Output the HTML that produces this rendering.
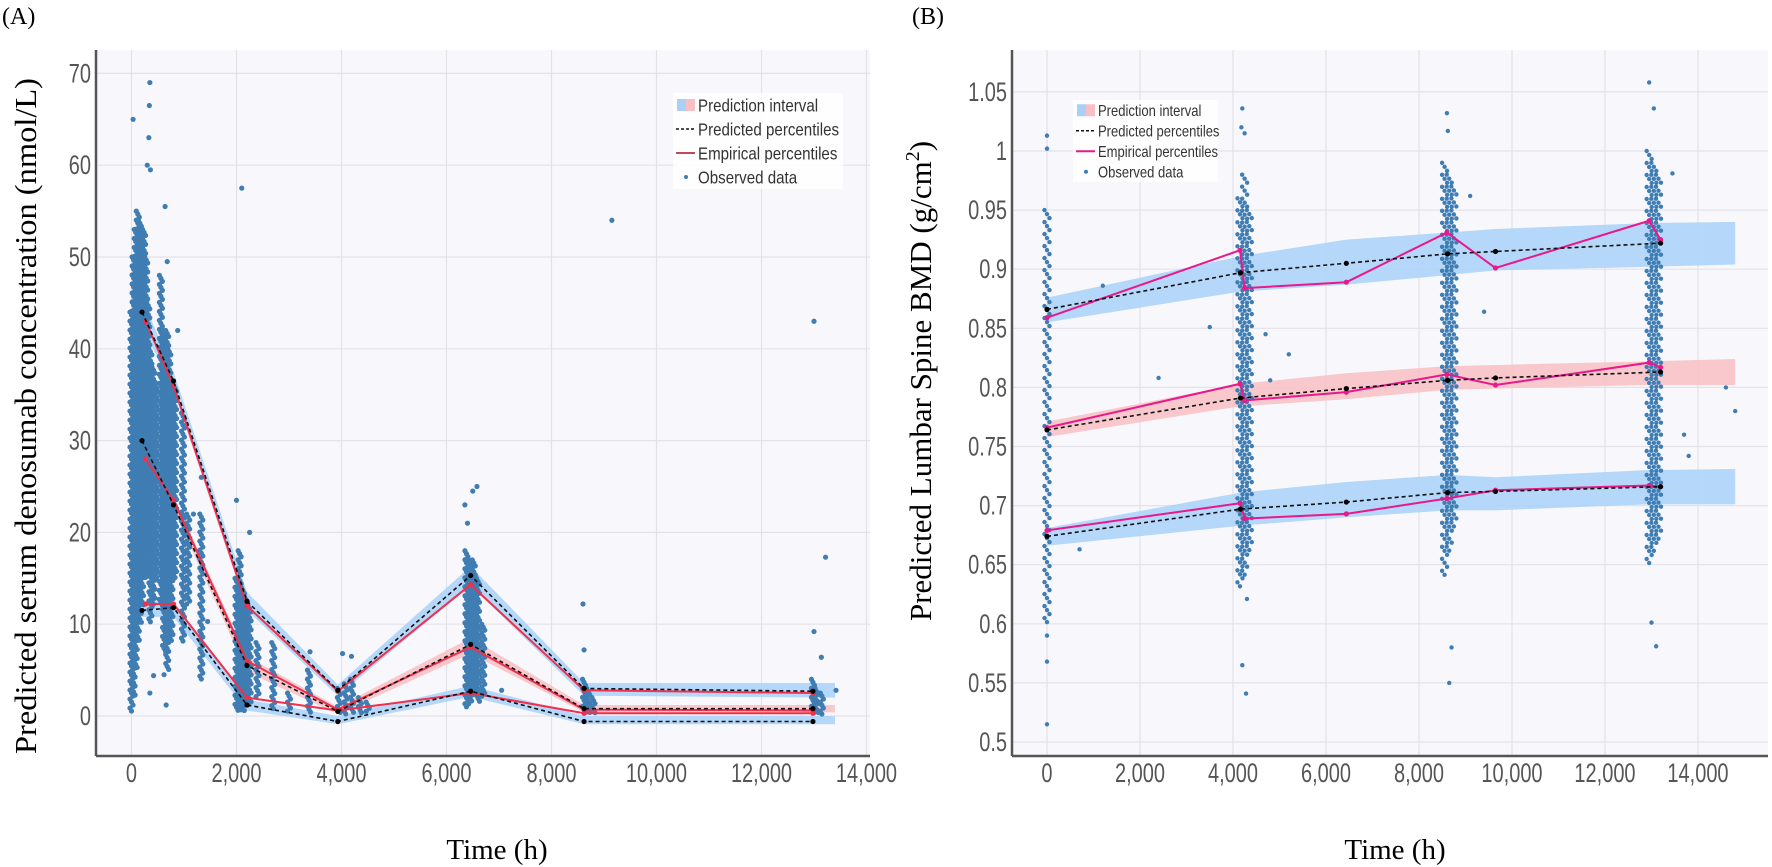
<!DOCTYPE html>
<html><head><meta charset="utf-8"><style>
html,body{margin:0;padding:0;background:#fff}
svg{display:block}
text{font-family:"Liberation Sans",sans-serif}
.serif{font-family:"Liberation Serif",serif}
</style></head><body>
<svg id="fig" width="1772" height="867" viewBox="0 0 1772 867" xmlns="http://www.w3.org/2000/svg">
<text x="2" y="24" class="serif" font-size="24" fill="#000">(A)</text>
<text x="912" y="24" class="serif" font-size="24" fill="#000">(B)</text>
<g id="pa"></g>
<g id="pb"></g>
</svg>
<script>
// ===== Panel A data =====
const aXTicks=[0,2000,4000,6000,8000,10000,12000,14000];
const aYTicks=[0,10,20,30,40,50,60,70];
const aPredX=[200,800,2200,3930,6460,8620,12980];
const aPredHi=[44,36.5,12.5,2.8,15.3,3.0,2.7];
const aPredMed=[30,23,5.5,0.5,7.8,0.8,0.8];
const aPredLo=[11.5,11.8,1.2,-0.6,2.7,-0.6,-0.6];
const aEmpX=[270,800,2200,3930,6460,8620,12980];
const aEmpHi=[43,36,12,2.7,14.3,2.8,2.5];
const aEmpMed=[28,23.5,6,0.7,7.5,0.7,0.6];
const aEmpLo=[12.2,12.2,2,0.6,2.5,0.3,0.3];
const aBandX=[0,200,800,2200,3930,6460,8620,13400];
const aBandHiLo=[42,42.5,35.5,11.5,2.2,14.2,2.2,2.0];
const aBandHiHi=[46,45.5,37.5,13.5,3.4,16.3,3.6,3.6];
const aBandMedLo=[28,28.5,22.5,4.8,0.2,6.8,0.4,0.4];
const aBandMedHi=[31,31,24,6.5,1.0,8.5,1.2,1.2];
const aBandLoLo=[10.5,10.8,10.8,0.6,-0.9,2.1,-0.9,-0.9];
const aBandLoHi=[12.5,12.5,12.5,1.8,0.0,3.3,0.0,0.0];
const aStripeX=[0,40,80,120,160,200,240,280,320,360,420,480,560,620,680,720,760,830,980,1080,1330,2000,2060,2120,2180,2250,2400,2700,3000,3380,3950,4080,4200,4350,4500,6380,6450,6520,6600,6700,8620,8700,8800,12980,13050,13150];
const aStripeLo=[0.3,2,5,8,10,12,15,18,15,10,12,15,12,7,5,10,8,15,8,12,4,0.5,0.5,0.5,1,1,2,0.5,0.5,0.3,0.2,0.2,0.3,0.3,0.3,1,1,2,1.5,2,0.2,0.2,0.2,0.2,0.2,0.2];
const aStripeHi=[44,50,53,55,54,52,53,50,45,40,38,36,48,42,42,40,36,36,33,22,22,15,18,14,13,12,8,8,2.5,5,3,3.5,4,2,1.5,18,17,17,15,10,4,3,2,4,3,2.5];
const aOutX=[30,350,340,330,360,300,2100,9150,13000,13220,13000,8600,6500,6580,6350,6400,2000,2250,640,680,880,1330,1180,4020,4190,7050,8620,13140,420,350,660,620,1000,1450,3400,13420];
const aOutY=[65,69,66.5,63,59.5,60,57.5,54,43,17.3,9.2,12.2,24.5,25,23,21,23.5,20,55.5,49.5,42,26,22,6.8,6.5,2.8,7.2,6.4,4.4,2.5,1.2,4.5,10,10.3,7,2.8];

// ===== Panel B data =====
const bXTicks=[0,2000,4000,6000,8000,10000,12000,14000];
const bYTicks=[0.5,0.55,0.6,0.65,0.7,0.75,0.8,0.85,0.9,0.95,1,1.05];
const bYTickLabels=["0.5","0.55","0.6","0.65","0.7","0.75","0.8","0.85","0.9","0.95","1","1.05"];
const bPredX=[0,4160,6437,8616,9645,13195];
const bPredHi=[0.866,0.897,0.905,0.913,0.915,0.922];
const bPredMed=[0.764,0.791,0.799,0.806,0.808,0.813];
const bPredLo=[0.674,0.697,0.703,0.711,0.712,0.716];
const bEmpX=[0,4150,4250,6437,8600,9645,12950,13195];
const bEmpHi=[0.859,0.916,0.884,0.889,0.931,0.901,0.941,0.925];
const bEmpMed=[0.766,0.803,0.789,0.796,0.811,0.802,0.821,0.817];
const bEmpLo=[0.679,0.702,0.689,0.693,0.706,0.713,0.717,0.716];
const bBandX=[0,4160,6437,8616,9645,12900,14800];
const bBandHiLo=[0.855,0.881,0.887,0.895,0.899,0.902,0.904];
const bBandHiHi=[0.876,0.911,0.925,0.931,0.934,0.939,0.940];
const bBandMedLo=[0.758,0.784,0.790,0.798,0.799,0.802,0.802];
const bBandMedHi=[0.771,0.803,0.812,0.818,0.819,0.822,0.824];
const bBandLoLo=[0.666,0.683,0.690,0.696,0.696,0.701,0.701];
const bBandLoHi=[0.681,0.711,0.720,0.726,0.724,0.730,0.731];
const bStripeX=[0,4150,4250,4350,8550,8650,8750,12950,13050,13150];
const bStripeLo=[0.60,0.63,0.64,0.66,0.64,0.66,0.68,0.65,0.66,0.67];
const bStripeHi=[0.95,0.96,0.98,0.95,0.99,0.98,0.97,1.00,0.99,0.98];
const bOutX=[0,0,0,0,0,4200,4200,4280,4300,4250,4180,8600,8650,8700,8620,12950,13000,13100,13050,13450,1200,2400,3500,5200,700,14600,14800,13700,13800,9100,9400,4800,4700];
const bOutY=[0.515,1.013,1.002,0.568,0.59,1.036,0.565,0.541,0.621,1.015,1.02,1.032,0.55,0.58,1.017,1.058,0.601,0.581,1.036,0.981,0.886,0.808,0.851,0.828,0.663,0.800,0.780,0.760,0.742,0.962,0.864,0.806,0.845];

const NS="http://www.w3.org/2000/svg";
function mk(parent,tag,attrs){const e=document.createElementNS(NS,tag);for(const k in attrs)e.setAttribute(k,attrs[k]);parent.appendChild(e);return e;}

function panel(g,cfg){
  const X=v=>cfg.x0+(v-cfg.xMin)*cfg.xs, Y=v=>cfg.y0-(v-cfg.yMin)*cfg.ys;
  let r=mk(g,'rect',{x:cfg.L,y:cfg.T,width:cfg.R-cfg.L,height:cfg.B-cfg.T,fill:'#f8f8fc'});
  
  
  cfg.xTicks.forEach(v=>{const l=mk(g,'line',{x1:X(v),x2:X(v),y1:cfg.T,y2:cfg.B,stroke:'#e2e2e8','stroke-width':1.2});
    });
  cfg.yTicks.forEach(v=>{const l=mk(g,'line',{x1:cfg.L,x2:cfg.R,y1:Y(v),y2:Y(v),stroke:'#e2e2e8','stroke-width':1.2});
    });
  function band(xs,lo,hi,col,name){let d='M'+xs.map((x,i)=>X(x)+','+Y(hi[i])).join('L');
    for(let i=xs.length-1;i>=0;i--)d+='L'+X(xs[i])+','+Y(lo[i]);
    const p=mk(g,'path',{d:d+'Z',fill:col,opacity:0.85});
    }
  band(cfg.bandX,cfg.bands[0],cfg.bands[1],'#a9d1f8','prediction-interval-upper');
  band(cfg.bandX,cfg.bands[2],cfg.bands[3],'#f8c0c4','prediction-interval-median');
  band(cfg.bandX,cfg.bands[4],cfg.bands[5],'#a9d1f8','prediction-interval-lower');
  const dots=mk(g,'g',{fill:'#3f7db3'});
  
  cfg.sx.forEach((x,i)=>{const y1=Y(cfg.shi[i]),y2=Y(cfg.slo[i]);let k=0;
    for(let y=y1;y<=y2;y+=cfg.step){const c=mk(dots,'circle',{cx:X(x)+((k++%3)-1)*cfg.jit,cy:y,r:cfg.dr});
      }});
  cfg.ox.forEach((x,i)=>{const c=mk(dots,'circle',{cx:X(x),cy:Y(cfg.oy[i]),r:cfg.dr});
    });
  function line(xs,ys,col,dash,name,dotCol){const p=mk(g,'polyline',{points:xs.map((x,i)=>X(x)+','+Y(ys[i])).join(' '),fill:'none',stroke:col,'stroke-width':dash?1.6:2,'stroke-dasharray':dash?'4 3':'none'});
    
    xs.forEach((x,i)=>{const c=mk(g,'circle',{cx:X(x),cy:Y(ys[i]),r:2.6,fill:dotCol});
      });}
  cfg.emp.forEach((ys,i)=>line(cfg.empX,ys,cfg.red,false,'empirical-percentile-'+['upper','median','lower'][i],cfg.red));
  cfg.pred.forEach((ys,i)=>line(cfg.predX,ys,'#111',true,'predicted-percentile-'+['upper','median','lower'][i],'#000'));
  let a=mk(g,'line',{x1:cfg.L,x2:cfg.R,y1:cfg.B,y2:cfg.B,stroke:'#555','stroke-width':2.5});
  
  a=mk(g,'line',{x1:cfg.L,x2:cfg.L,y1:cfg.T,y2:cfg.B,stroke:'#555','stroke-width':2.5});
  
  cfg.xTicks.forEach(v=>{const t=mk(g,'text',{x:X(v),y:cfg.B+26,'text-anchor':'middle','font-size':27,fill:'#555',transform:`translate(${X(v)},0) scale(0.74,1) translate(${-X(v)},0)`});
    t.textContent=v===0?'0':v.toLocaleString('en-US');
    });
  cfg.yTicks.forEach((v,i)=>{const ex=cfg.L-5;const t=mk(g,'text',{x:ex,y:Y(v)+9,'text-anchor':'end','font-size':27,fill:'#555',transform:`translate(${ex},0) scale(0.74,1) translate(${-ex},0)`});
    t.textContent=cfg.yLabels?cfg.yLabels[i]:String(v);
    });
  return {X,Y};
}

const pa=document.getElementById('pa'), pb=document.getElementById('pb');
panel(pa,{L:96,R:870,T:50,B:756,x0:131.5,xMin:0,xs:105/2000,y0:716,yMin:0,ys:91.8/10,
  xTicks:aXTicks,yTicks:aYTicks,bandX:aBandX,bands:[aBandHiLo,aBandHiHi,aBandMedLo,aBandMedHi,aBandLoLo,aBandLoHi],
  sx:aStripeX,slo:aStripeLo,shi:aStripeHi,ox:aOutX,oy:aOutY,step:3,jit:1.5,dr:2.6,
  empX:aEmpX,emp:[aEmpHi,aEmpMed,aEmpLo],predX:aPredX,pred:[aPredHi,aPredMed,aPredLo],red:'#f0304c'});
panel(pb,{L:1012,R:1768,T:50,B:756,x0:1047,xMin:0,xs:93/2000,y0:742,yMin:0.5,ys:59.1/0.05,
  xTicks:bXTicks,yTicks:bYTicks,yLabels:bYTickLabels,bandX:bBandX,bands:[bBandHiLo,bBandHiHi,bBandMedLo,bBandMedHi,bBandLoLo,bBandLoHi],
  sx:bStripeX,slo:bStripeLo,shi:bStripeHi,ox:bOutX,oy:bOutY,step:4,jit:2.5,dr:2.2,
  empX:bEmpX,emp:[bEmpHi,bEmpMed,bEmpLo],predX:bPredX,pred:[bPredHi,bPredMed,bPredLo],red:'#e8198b'});

function txt(parent,attrs,s,name){const t=mk(parent,'text',attrs);t.textContent=s;return t;}
txt(pa,{x:0,y:0,'font-size':31,'class':'serif',fill:'#000','text-anchor':'middle',transform:'translate(36,416) rotate(-90)',textLength:676,lengthAdjust:'spacingAndGlyphs'},'Predicted serum denosumab concentration (nmol/L)','y-axis-title');
txt(pa,{x:497,y:859,'font-size':29,'class':'serif',fill:'#000','text-anchor':'middle'},'Time (h)','x-axis-title');
const bt=mk(pb,'text',{x:0,y:0,'font-size':31,'class':'serif',fill:'#000','text-anchor':'middle',transform:'translate(931,381) rotate(-90)'});


bt.innerHTML='Predicted Lumbar Spine BMD (g/cm<tspan font-size="20" dy="-12">2</tspan><tspan dy="12">)</tspan>';
txt(pb,{x:1395,y:859,'font-size':29,'class':'serif',fill:'#000','text-anchor':'middle'},'Time (h)','x-axis-title');

function legend(parent,x,y,w,h,fs,red){
  const g=mk(parent,'g',{});
  
  mk(g,'rect',{x:x,y:y,width:w,height:h,fill:'#ffffff',opacity:0.85});
  const rows=['Prediction interval','Predicted percentiles','Empirical percentiles','Observed data'];
  const rh=h/4;
  rows.forEach((s,i)=>{const cy=y+rh*(i+0.5);
    const e=mk(g,'g',{});
    if(i===0){mk(e,'rect',{x:x+4,y:cy-6,width:9,height:12,fill:'#a9d1f8'});mk(e,'rect',{x:x+13,y:cy-6,width:9,height:12,fill:'#f8c0c4'});}
    if(i===1)mk(e,'line',{x1:x+3,x2:x+22,y1:cy,y2:cy,stroke:'#111','stroke-width':1.4,'stroke-dasharray':'3 2'});
    if(i===2)mk(e,'line',{x1:x+3,x2:x+22,y1:cy,y2:cy,stroke:red,'stroke-width':2});
    if(i===3)mk(e,'circle',{cx:x+13,cy:cy,r:2,fill:'#3f7db3'});
    const t=mk(e,'text',{x:x+25,y:cy+fs*0.36,'font-size':fs,fill:'#333',transform:`translate(${x+25},0) scale(0.84,1) translate(${-(x+25)},0)`});t.textContent=s;
    });
}
legend(pa,673,93,170,96,18,'#c0485a');
legend(pb,1073,100,145,82,15.5,'#e8198b');
</script>
</body></html>
